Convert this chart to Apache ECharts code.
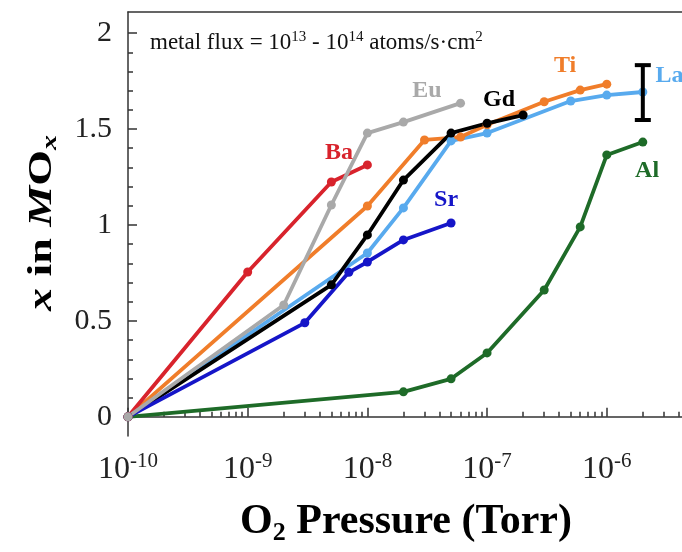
<!DOCTYPE html>
<html>
<head>
<meta charset="utf-8">
<script src="https://cdn.jsdelivr.net/npm/echarts@6/dist/echarts.min.js"></script>
<style>
  html, body { margin: 0; padding: 0; background: #fff; }
  #chart { width: 682px; height: 552px; }
</style>
</head>
<body>
<div id="chart"></div>
<script>
// O2 pressure (Torr) vs x in MOx, one array per metal
const alData = [[1e-10, 0], [2e-8, 0.13], [5e-8, 0.198], [1e-7, 0.333], [3e-7, 0.661], [6e-7, 0.99], [1e-6, 1.365], [2e-6, 1.432]];
const laData = [[1e-10, 0], [1e-8, 0.854], [2e-8, 1.089], [5e-8, 1.438], [1e-7, 1.479], [5e-7, 1.646], [1e-6, 1.677], [2e-6, 1.693]];
const tiData = [[1e-10, 0], [1e-8, 1.099], [3e-8, 1.443], [6e-8, 1.458], [1e-7, 1.522], [3e-7, 1.642], [6e-7, 1.703], [1e-6, 1.734]];
const gdData = [[1e-10, 0], [5e-9, 0.688], [1e-8, 0.948], [2e-8, 1.234], [5e-8, 1.479], [1e-7, 1.53], [2e-7, 1.573]];
const srData = [[1e-10, 0], [3e-9, 0.49], [7e-9, 0.753], [1e-8, 0.807], [2e-8, 0.922], [5e-8, 1.01]];
const baData = [[1e-10, 0], [1e-9, 0.755], [5e-9, 1.224], [1e-8, 1.313]];
const euData = [[1e-10, 0], [2e-9, 0.583], [5e-9, 1.104], [1e-8, 1.479], [2e-8, 1.536], [6e-8, 1.635]];

// error bar on the La end point: [pressure, centre, half height]
const errorBar = [[2e-6, 1.69, 0.143]];

const xMajorTicks = [1e-10, 1e-9, 1e-8, 1e-7, 1e-6];
const xTickExponents = ['-10', '-9', '-8', '-7', '-6'];
const xMantissas = [2, 3, 4, 5, 6, 7, 8, 9];
const yMajorTicks = [0, 0.5, 1, 1.5, 2];
const yTickLabels = ['0', '0.5', '1', '1.5', '2'];
const yMinorTicks = [0.1, 0.2, 0.3, 0.4, 0.6, 0.7, 0.8, 0.9, 1.1, 1.2, 1.3, 1.4, 1.6, 1.7, 1.8, 1.9];

const seriesNames = ['Al', 'La', 'Ti', 'Gd', 'Sr', 'Ba', 'Eu'];
const seriesData = [alData, laData, tiData, gdData, srData, baData, euData];
const seriesColors = ['#1e6b28', '#58aaee', '#f07d2a', '#000000', '#1515c8', '#d8232c', '#a9a9a9'];
// where each metal's name sits, in data units
const labelAnchors = [[2.17e-6, 1.281], [2.55e-6, 1.776], [4.48e-7, 1.828], [1.26e-7, 1.651], [4.54e-8, 1.13], [5.8e-9, 1.375], [3.15e-8, 1.698]];
const labelAlign = ['center', 'left', 'center', 'center', 'center', 'center', 'center'];

const xMin = 1e-10, xMax = 4.25e-6;
const yMin = -0.1, yMax = 2.11;
const serif = 'Liberation Serif';

const xMinorTicks = [];
xMajorTicks.forEach((d) => xMantissas.forEach((m) => {
  if (m * d < xMax) xMinorTicks.push(m * d);
}));

const chart = echarts.init(document.getElementById('chart'));

const tickColor = '#333';

const option = {
  animation: false,
  grid: { left: 128, right: 0, top: 12, bottom: 116 },
  xAxis: [
    {
      type: 'log', logBase: 10, min: xMin, max: xMax, position: 'bottom',
      axisLine: { show: true, lineStyle: { color: tickColor, width: 1.5 } },
      axisTick: { inside: true, length: 9, customValues: xMajorTicks, lineStyle: { color: tickColor, width: 1.5 } },
      axisLabel: {
        customValues: xMajorTicks, margin: 15, color: '#222',
        formatter: (v) => {
          const i = xMajorTicks.findIndex((t) => Math.abs(Math.log10(t) - Math.log10(v)) < 1e-6);
          return '{b|10}{s|' + xTickExponents[i] + '}';
        },
        rich: {
          b: { fontFamily: serif, fontSize: 32, color: '#222' },
          s: { fontFamily: serif, fontSize: 21, color: '#222', padding: [0, 0, 16, 0] },
        },
      },
      splitLine: { show: false },
    },
    {
      type: 'log', logBase: 10, min: xMin, max: xMax, position: 'bottom',
      axisLine: { show: false },
      axisTick: { inside: true, length: 5, customValues: xMinorTicks, lineStyle: { color: tickColor, width: 1.5 } },
      axisLabel: { show: false },
      splitLine: { show: false },
    },
    {
      type: 'log', logBase: 10, min: xMin, max: xMax, position: 'top',
      axisLine: { show: true, lineStyle: { color: tickColor, width: 1.5 } },
      axisTick: { show: false }, axisLabel: { show: false }, splitLine: { show: false },
    },
  ],
  yAxis: [
    {
      type: 'value', min: yMin, max: yMax, position: 'left',
      axisLine: { show: true, lineStyle: { color: tickColor, width: 1.5 } },
      axisTick: { inside: true, length: 9, customValues: yMajorTicks, lineStyle: { color: tickColor, width: 1.5 } },
      axisLabel: {
        customValues: yMajorTicks, margin: 16, color: '#222', fontFamily: serif, fontSize: 30,
        formatter: (v) => yTickLabels[yMajorTicks.findIndex((t) => Math.abs(t - v) < 1e-6)],
      },
      splitLine: { show: false },
    },
    {
      type: 'value', min: yMin, max: yMax, position: 'left',
      axisLine: { show: false },
      axisTick: { inside: true, length: 5, customValues: yMinorTicks, lineStyle: { color: tickColor, width: 1.5 } },
      axisLabel: { show: false },
      splitLine: { show: false },
    },
  ],
  series: [
    ...seriesNames.map((name, i) => ({
      name,
      type: 'line',
      data: seriesData[i],
      symbol: 'circle',
      symbolSize: 9,
      lineStyle: { width: 3.8, color: seriesColors[i] },
      itemStyle: { color: seriesColors[i] },
      clip: false,
    })),
    {
      type: 'custom',
      data: errorBar,
      renderItem: (params, api) => {
        const top = api.coord([api.value(0), api.value(1) + api.value(2)]);
        const bot = api.coord([api.value(0), api.value(1) - api.value(2)]);
        const x = top[0], w = 8;
        const st = { stroke: '#000', lineWidth: 4 };
        return {
          type: 'group',
          children: [
            { type: 'line', shape: { x1: x, y1: top[1], x2: x, y2: bot[1] }, style: st },
            { type: 'line', shape: { x1: x - w, y1: top[1], x2: x + w, y2: top[1] }, style: st },
            { type: 'line', shape: { x1: x - w, y1: bot[1], x2: x + w, y2: bot[1] }, style: st },
          ],
        };
      },
      z: 5,
    },
  ],
};

chart.setOption(option);

const graphics = seriesNames.map((name, i) => {
  const p = chart.convertToPixel({ xAxisIndex: 0, yAxisIndex: 0 }, labelAnchors[i]);
  return {
    type: 'text', x: p[0], y: p[1], z: 10,
    style: {
      text: name, fill: seriesColors[i], fontFamily: serif, fontSize: 24, fontWeight: 'bold',
      align: labelAlign[i], verticalAlign: 'middle',
    },
  };
});

graphics.push({
  type: 'text', x: 150, y: 43, z: 10,
  style: {
    text: 'metal flux = 10{s|13} - 10{s|14} atoms/s·cm{s|2}',
    fill: '#111', fontFamily: serif, fontSize: 23, verticalAlign: 'middle', align: 'left',
    rich: { s: { fontFamily: serif, fontSize: 15, fill: '#111', padding: [0, 0, 11, 0] } },
  },
});

graphics.push({
  type: 'text', x: 406, y: 522, z: 10,
  style: {
    text: 'O{sub|2} Pressure (Torr)',
    fill: '#000', fontFamily: serif, fontSize: 42, fontWeight: 'bold', align: 'center', verticalAlign: 'middle',
    rich: { sub: { fontFamily: serif, fontSize: 26, fontWeight: 'bold', fill: '#000', padding: [22, 0, 0, 0] } },
  },
});

graphics.push({
  type: 'text', x: 42, y: 223, rotation: Math.PI / 2, scaleX: 1, scaleY: 0.72, z: 10,
  style: {
    text: '{i|x} in {i|M}O{sub|x}',
    fill: '#000', fontFamily: serif, fontSize: 46, fontWeight: 'bold', align: 'center', verticalAlign: 'middle',
    rich: {
      i: { fontFamily: serif, fontSize: 46, fontWeight: 'bold', fontStyle: 'italic', fill: '#000' },
      sub: { fontFamily: serif, fontSize: 30, fontWeight: 'bold', fontStyle: 'italic', fill: '#000', padding: [24, 0, 0, 0] },
    },
  },
});

chart.setOption({ graphic: graphics });
</script>
</body>
</html>
